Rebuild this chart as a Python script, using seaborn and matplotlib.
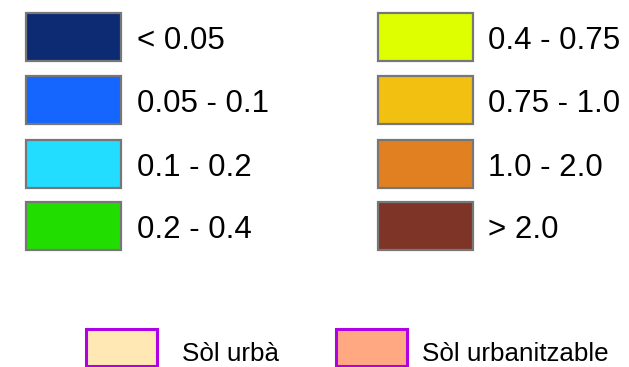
import matplotlib
matplotlib.use("Agg")
import matplotlib.pyplot as plt
import seaborn as sns

# legend classes
range_labels = ["< 0.05", "0.05 - 0.1", "0.1 - 0.2", "0.2 - 0.4",
                "0.4 - 0.75", "0.75 - 1.0", "1.0 - 2.0", "> 2.0"]
range_colors = ["#0c2b73", "#1565ff", "#22ddff", "#22dd00",
                "#ddff00", "#f2c010", "#e08020", "#7f3428"]

soil_labels = ["Sòl urbà", "Sòl urbanitzable"]
soil_colors = ["#ffe8b4", "#ffa882"]

sns.set_theme(style="white")
plt.rcParams["font.family"] = ["Liberation Sans", "DejaVu Sans"]

W, H = 629, 367
fig = plt.figure(figsize=(W / 100, H / 100), dpi=100)
ax = fig.add_axes([0, 0, 1, 1])
ax.set_xlim(0, W)
ax.set_ylim(H, 0)
ax.axis("off")

# two columns of four swatches
col_x = [26, 378]
text_x = [137, 488]
row_top = [13, 76, 140, 202]
for i, (lab, col) in enumerate(zip(range_labels, range_colors)):
    c, r = divmod(i, 4)
    ax.bar(col_x[c], 48, width=95, bottom=row_top[r], align="edge",
           color=col, edgecolor="#777777", linewidth=1.6)
    ax.text(text_x[c], row_top[r] + 36, lab, fontsize=22.5,
            color="black", va="baseline", ha="left")

# soil types along the bottom
soil_x = [86, 336]
soil_tx = [182, 422]
for x, tx, lab, col in zip(soil_x, soil_tx, soil_labels, soil_colors):
    ax.bar(x, 37, width=71, bottom=328.5, align="edge", color=col,
           edgecolor="#b000e6", linewidth=2.2)
    ax.text(tx, 361, lab, fontsize=18.7, color="black",
            va="baseline", ha="left")

fig.savefig("out.png", dpi=100, facecolor="white")
